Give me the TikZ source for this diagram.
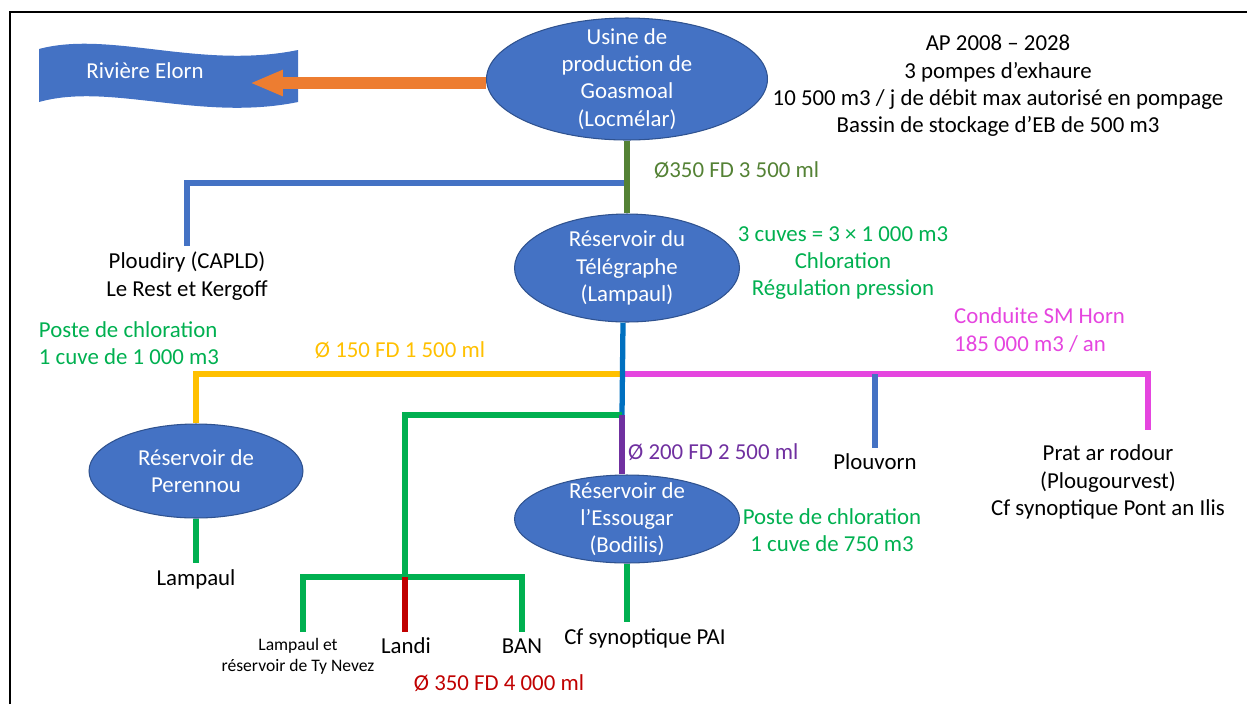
\documentclass[tikz,border=0pt]{standalone}
\usepackage{fontspec}
\setmainfont{Carlito}
\usetikzlibrary{shapes.geometric,arrows.meta}
\definecolor{tankblue}{HTML}{4472C4}
\definecolor{tankedge}{HTML}{2F528F}
\definecolor{oliveline}{HTML}{548235}
\definecolor{deepblue}{HTML}{0070C0}
\definecolor{gold}{HTML}{FFC000}
\definecolor{pink}{HTML}{E545DF}
\definecolor{leaf}{HTML}{00B050}
\definecolor{violet}{HTML}{7030A0}
\definecolor{crimson}{HTML}{C00000}
\definecolor{flow}{HTML}{ED7D31}
\tikzset{
    tank/.style={ellipse, fill=tankblue, draw=tankedge, line width=0.6pt, inner sep=0pt},
    tanktext/.style={text=white, align=center},
    pipe/.style={line width=3pt},
    txt/.style={align=center},
    small/.style={align=center, font=\fontsize{10}{12}\selectfont}
}
\begin{document}
\begin{tikzpicture}[x=0.02cm, y=-0.02cm, font=\fontsize{13}{15.5}\selectfont]
    \useasboundingbox (0,0) rectangle (1247,704);
    \draw[line width=1.4pt] (10,704) -- (10,12) -- (1247,12);
    \fill[tankblue] (39,49) .. controls (110,30) and (200,70) .. (298,50)
      -- (298,102) .. controls (200,122) and (110,82) .. (39,102) -- cycle;
    \node[text=white] (elorn) at (145,71) {Rivière Elorn};
    \coordinate (elorntip) at (250,83);
      \node[tank, minimum width=5.62cm, minimum height=2.44cm,
        label={[tanktext]center:Usine de\\production de\\Goasmoal\\(Locmélar)}] (usine) at (627,79) {};
      \node[tank, minimum width=4.5cm, minimum height=2.16cm,
        label={[tanktext]center:Réservoir du\\Télégraphe\\(Lampaul)}] (telegraphe) at (627,268) {};
      \node[tank, minimum width=4.5cm, minimum height=1.76cm,
        label={[tanktext]center:Réservoir de\\l’Essougar\\(Bodilis)}] (essougar) at (627,519) {};
      \node[tank, minimum width=4.28cm, minimum height=1.88cm,
        label={[tanktext]center:Réservoir de\\Perennou}] (perennou) at (196,471) {};
      \node[txt] (ap) at (998,86) {AP 2008 – 2028\\3 pompes d’exhaure\\10 500 m3 / j de débit max autorisé en pompage\\Bassin de stockage d’EB de 500 m3};
      \node[txt] (ploudiry) at (187,276) {Ploudiry (CAPLD)\\Le Rest et Kergoff};
      \node[txt, text=leaf] (cuves) at (843,263) {3 cuves = 3 × 1 000 m3\\Chloration\\Régulation pression};
      \node[align=left, text=leaf] (chloperennou) at (129,343) {Poste de chloration\\1 cuve de 1 000 m3};
      \node[align=left, text=pink, anchor=west] (horn) at (948,330) {Conduite SM Horn\\185 000 m3 / an};
      \node[txt] (plouvorn) at (875,462) {Plouvorn};
      \node[txt] (prat) at (1108,482) {Prat ar rodour\\(Plougourvest)\\Cf synoptique Pont an Ilis};
      \node[txt, text=leaf] (chloessougar) at (832,530) {Poste de chloration\\1 cuve de 750 m3};
      \node[txt] (lampaul) at (196,579) {Lampaul};
      \node[small] (tynevez) at (298,656) {Lampaul et\\réservoir de Ty Nevez};
      \node[txt] (landi) at (406,646) {Landi};
      \node[txt] (ban) at (522,646) {BAN};
      \node[txt] (pai) at (645,638) {Cf synoptique PAI};
      \node[anchor=west, text=oliveline] (d350a) at (648,170) {Ø350 FD 3 500 ml};
      \node[txt, text=gold] (d150) at (400,350) {Ø 150 FD 1 500 ml};
      \node[anchor=west, text=violet] (d200) at (622,452) {Ø 200 FD 2 500 ml};
      \node[txt, text=crimson] (d350b) at (499,683) {Ø 350 FD 4 000 ml};
      \coordinate (ja) at (627,183);
      \coordinate (jb) at (623,374);
      \coordinate (jc) at (622,415);
      \coordinate (jd) at (405,577);
      \coordinate (pratend) at (1148,430);
      \draw[line width=6.8pt, flow, -{Triangle[length=0.66cm, width=0.48cm]}] (elorntip -| usine.west) -- (elorntip);
      \draw[pipe, tankblue] (ja) -| (ploudiry.north);
      \draw[pipe, oliveline] (usine.south) -- (telegraphe.north);
      \draw[pipe, gold] (jb) -| (perennou.north);
      \draw[pipe, pink] (jb) -| (pratend);
      \draw[pipe, tankblue] (plouvorn.north |- jb) -- (plouvorn.north);
      \draw[pipe, deepblue] (telegraphe.south -| jb) -- (jc);
      \draw[pipe, leaf] (jc) -| (jd);
      \draw[pipe, violet] (jc) -- (jc |- essougar.north);
      \draw[pipe, leaf] (essougar.south) -- (essougar.south |- pai.north);
      \draw[pipe, leaf] (perennou.south) -- (lampaul.north);
      \draw[pipe, leaf] (tynevez.north -| 303,0) -- (303,577) -- (ban.north |- jd) -- (ban.north);
      \draw[pipe, crimson] (jd) -- (jd |- landi.north);
\end{tikzpicture}
\end{document}
